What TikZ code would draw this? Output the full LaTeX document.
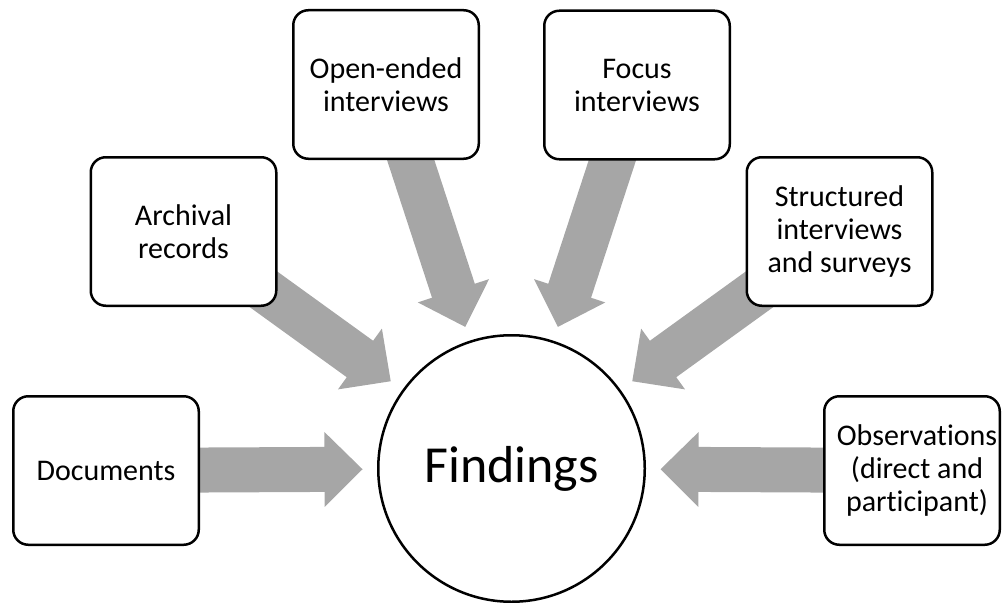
\documentclass[tikz,border=0pt]{standalone}
\usepackage{fontspec}
\setmainfont{Carlito}[Ligatures=NoCommon]
\usetikzlibrary{calc,backgrounds}
\definecolor{arrowgray}{HTML}{A6A6A6}
\tikzset{
  srcbox/.style={draw=black, line width=2.5pt, rounded corners=15pt, fill=white,
    minimum width=185.5pt, minimum height=148.5pt, inner sep=0pt},
  srctext/.style={align=center, font=\fontsize{30}{33}\selectfont, inner sep=0pt},
  hub/.style={draw=black, line width=2.5pt, circle, fill=white, minimum size=266.5pt,
    inner sep=0pt, font=\fontsize{52}{60}\selectfont},
}
% Block arrow from the centre of source node #1 towards hub node #2;
% the tip stops 149pt from the hub centre.
\newcommand{\fatarrow}[2]{%
  \coordinate (#1-tip) at ($(#2.center)!149pt!(#1.center)$);
  \coordinate (#1-neck) at ($(#2.center)!187pt!(#1.center)$);
  \fill[arrowgray]
    ($(#1.center)!22.5pt!90:(#1-tip)$) --
    ($(#1-neck)!22.5pt!90:(#1-tip)$) --
    ($(#1-neck)!37.5pt!90:(#1-tip)$) --
    (#1-tip) --
    ($(#1-neck)!37.5pt!-90:(#1-tip)$) --
    ($(#1-neck)!22.5pt!-90:(#1-tip)$) --
    ($(#1.center)!22.5pt!-90:(#1-tip)$) -- cycle;
}
\begin{document}
\begin{tikzpicture}[x=1pt, y=-1pt]
  \useasboundingbox (0,0) rectangle (1003,602);

  % central circle
  \node[hub] (find) at (511.5,468.5) {Findings};

  % sources
  \node[srcbox, srctext] (doc) at (106,470.5) {Documents};
  \node[srcbox, srctext] (arch) at (183.5,231.5) {Archival\\records};
  \node[srcbox, srctext] (open) at (386,84.5) {Open-ended\\interviews};
  \node[srcbox, srctext] (focus) at (637,85) {Focus\\interviews};
  \node[srcbox, srctext] (struct) at (839.5,231.5) {Structured\\interviews\\and surveys};
  \node[srcbox, minimum width=175.5pt] (obs) at (912,470.5) {};
  \node[srctext] (obstext) at (917,470.5) {Observations\\(direct and\\participant)};

  % converging arrows behind the boxes
  \begin{scope}[on background layer]
    \fatarrow{doc}{find}
    \fatarrow{arch}{find}
    \fatarrow{open}{find}
    \fatarrow{focus}{find}
    \fatarrow{struct}{find}
    \fatarrow{obs}{find}
  \end{scope}
\end{tikzpicture}
\end{document}
